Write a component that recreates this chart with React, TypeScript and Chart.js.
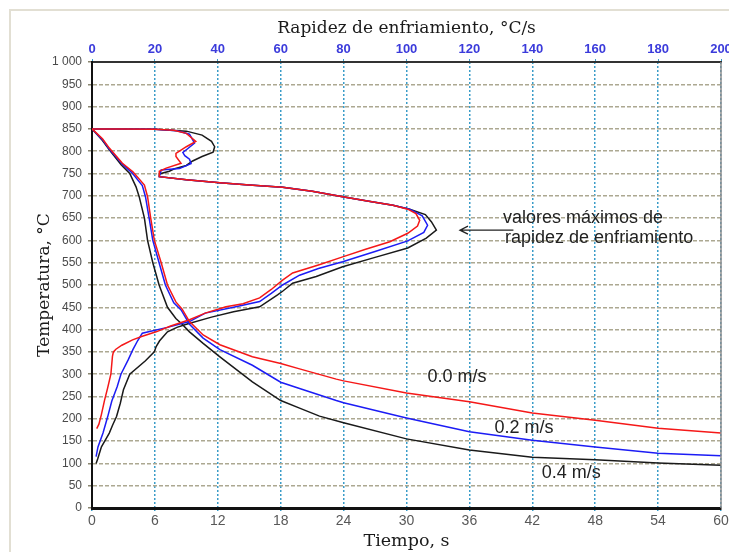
import React, { useEffect, useRef } from 'react';
import { Chart, registerables } from 'chart.js';

Chart.register(...registerables);

// ---- Cooling curves: temperature (°C) vs time (s) ----
const timeRed = [0, 1, 1.65, 2.9, 3.9, 5.0, 5.3, 5.6, 5.95, 6.6, 7.2, 8.0, 8.6, 9.3, 10.6, 12.2, 15.3, 18, 19.8, 23.3, 24, 30, 36, 42, 48, 54, 60];
const tempRed = [850, 828, 807, 773, 754, 724, 698, 650, 600, 550, 500, 462, 446, 418, 388, 366, 339, 324, 312, 289, 285, 258, 238, 213, 197, 179, 168];

const timeBlue = [0, 1, 1.65, 2.9, 3.8, 4.8, 5.1, 5.45, 5.8, 6.4, 7.0, 7.8, 8.5, 9.3, 10.6, 12.2, 15.3, 18, 19.8, 23.3, 24, 30, 36, 42, 48, 54, 60];
const tempBlue = [850, 826, 805, 771, 752, 723, 698, 650, 600, 550, 500, 460, 444, 412, 381, 355, 320, 282, 268, 241, 236, 202, 171, 152, 137, 123, 117];

const timeBlack = [0, 1, 1.65, 2.8, 3.6, 4.2, 4.5, 5.0, 5.3, 5.8, 6.4, 7.2, 8.0, 8.6, 9.3, 10.6, 12.2, 15.3, 18, 19.8, 21.7, 24, 30, 36, 42, 48, 54, 60];
const tempBlack = [850, 824, 803, 769, 750, 720, 698, 650, 600, 550, 500, 450, 425, 412, 395, 369, 339, 283, 241, 224, 206, 191, 155, 130, 114, 108, 101, 96];

// ---- Cooling-rate curves: temperature (°C) vs cooling rate (°C/s) ----
const rateRed = [0, 10, 20, 26, 30, 33, 30, 26.7, 26.7, 28.3, 23.6, 21.4, 21.4, 30, 40.6, 50, 60.6, 70, 79.7, 88, 95.7, 100.4, 103, 104.2, 103.5, 100.4, 94.7, 87, 79.7, 72, 63.8, 60.6, 57, 53.3, 48, 42.6, 36, 31, 25, 20.4, 16, 12.9, 9.5, 7.6, 6.8, 6.5, 6, 5, 4, 3, 2.2, 1.5];
const rateTempRed = [850, 850, 849, 847, 840, 822, 810, 795, 788, 773, 762, 755, 743, 736, 729, 724, 719, 710, 698, 688, 679, 670, 660, 645, 632, 616, 597, 580, 563, 545, 527, 511, 490, 471, 458, 451, 437, 422, 408, 395, 385, 377, 365, 356, 350, 340, 300, 270, 242, 210, 188, 178];

const rateBlue = [0, 10, 20, 27, 31, 32.6, 30.5, 28.9, 29.5, 31, 31.5, 27.8, 22, 21.4, 30, 40.6, 50, 60.6, 70, 79.7, 88, 95.7, 101, 105, 106.7, 105.5, 100.4, 90, 79.7, 72, 66, 60.6, 57, 53.3, 45, 36, 31, 24, 16, 14.5, 13, 11.5, 9.2, 8, 6.3, 5, 3.5, 1.9, 1.3];
const rateTempBlue = [850, 850, 849, 846, 838, 818, 806, 797, 790, 782, 772, 761, 758, 743, 736, 729, 724, 719, 710, 698, 688, 679, 670, 655, 634, 618, 599, 575, 552, 537, 522, 500, 481, 463, 450, 437, 418, 405, 392, 375, 355, 332, 300, 272, 240, 205, 168, 137, 115];

const rateBlack = [0, 10, 20, 30, 35, 38, 39, 38.5, 35, 32, 30, 26, 24.6, 21.4, 21.4, 30, 40.6, 50, 60.6, 70, 79.7, 88, 95.7, 101, 106, 107.9, 109.5, 106.3, 100.4, 90, 79.7, 71.3, 63.8, 60.6, 59, 53.3, 45, 38, 30, 27, 24, 21.5, 20.4, 19.8, 17, 12, 10, 9, 7.8, 6.5, 5.5, 3, 1.8, 1.3];
const rateTempBlack = [850, 850, 849, 845, 836, 822, 810, 798, 788, 778, 768, 760, 755, 749, 743, 736, 729, 724, 719, 710, 698, 688, 679, 670, 658, 642, 623, 605, 583, 562, 541, 519, 504, 486, 478, 451, 440, 428, 412, 405, 395, 375, 362, 350, 330, 300, 265, 235, 205, 185, 168, 137, 110, 100];

// ---- Axis ticks / titles ----
const timeTicksStep = 6;
const rateTicksStep = 20;
const tempTicksStep = 50;
const xTitle = 'Tiempo, s';
const x2Title = 'Rapidez de enfriamiento, °C/s';
const yTitle = 'Temperatura, °C';

// ---- Text annotations (in data coordinates: time s, temperature °C) ----
const speedLabels = ['0.0 m/s', '0.2 m/s', '0.4 m/s'];
const speedLabelTime = [32.0, 38.4, 42.9];
const speedLabelTemp = [294, 179, 78];
const noteLines = ['valores máximos de', 'rapidez de enfriamiento'];
const noteTime = [39.2, 39.4];
const noteTemp = [650, 605];
const arrowFrom = { t: 40.2, T: 623 };
const arrowTo = { t: 35.1, T: 623 };

const RED = '#f51818';
const BLUE = '#1c1cf5';
const BLACK = '#1a1a1a';

const pts = (xs: number[], ys: number[]) => xs.map((x, i) => ({ x, y: ys[i] }));

const overlay = {
  id: 'overlay',
  afterDatasetsDraw(chart: any) {
    const { ctx, chartArea: a, scales } = chart;
    const x = scales.x;
    const y = scales.y;
    ctx.save();
    ctx.strokeStyle = '#8c8c8c';
    ctx.lineWidth = 1.5;
    ctx.beginPath();
    ctx.moveTo(a.right, a.top);
    ctx.lineTo(a.right, a.bottom);
    ctx.stroke();

    ctx.fillStyle = '#222';
    ctx.textBaseline = 'middle';
    ctx.textAlign = 'left';
    ctx.font = '18px "Liberation Sans", Arial, sans-serif';
    speedLabels.forEach((s, i) => {
      ctx.fillText(s, x.getPixelForValue(speedLabelTime[i]), y.getPixelForValue(speedLabelTemp[i]));
    });
    noteLines.forEach((s, i) => {
      ctx.fillText(s, x.getPixelForValue(noteTime[i]), y.getPixelForValue(noteTemp[i]));
    });
    const x1 = x.getPixelForValue(arrowFrom.t);
    const y1 = y.getPixelForValue(arrowFrom.T);
    const x2 = x.getPixelForValue(arrowTo.t);
    const y2 = y.getPixelForValue(arrowTo.T);
    ctx.strokeStyle = '#222';
    ctx.lineWidth = 1.3;
    ctx.beginPath();
    ctx.moveTo(x1, y1);
    ctx.lineTo(x2, y2);
    ctx.moveTo(x2 + 8, y2 - 4);
    ctx.lineTo(x2, y2);
    ctx.lineTo(x2 + 8, y2 + 4);
    ctx.stroke();
    ctx.restore();
  },
};

export default function App() {
  const ref = useRef<HTMLCanvasElement>(null);
  useEffect(() => {
    const line = (label: string, xs: number[], ys: number[], color: string, axis: string) => ({
      label,
      data: pts(xs, ys),
      xAxisID: axis,
      yAxisID: 'y',
      showLine: true,
      borderColor: color,
      backgroundColor: color,
      borderWidth: 1.5,
      pointRadius: 0,
      tension: 0,
      fill: false,
    });
    const chart = new Chart(ref.current!, {
      type: 'scatter',
      data: {
        datasets: [
          line('0.0 m/s T-t', timeRed, tempRed, RED, 'x'),
          line('0.0 m/s rate', rateRed, rateTempRed, RED, 'x2'),
          line('0.2 m/s T-t', timeBlue, tempBlue, BLUE, 'x'),
          line('0.2 m/s rate', rateBlue, rateTempBlue, BLUE, 'x2'),
          line('0.4 m/s T-t', timeBlack, tempBlack, BLACK, 'x'),
          line('0.4 m/s rate', rateBlack, rateTempBlack, BLACK, 'x2'),
        ],
      },
      options: {
        responsive: false,
        animation: false,
        devicePixelRatio: 1,
        layout: { padding: { left: 0, right: 8, top: 0, bottom: 0 } },
        plugins: { legend: { display: false }, tooltip: { enabled: false } },
        scales: {
          x: {
            type: 'linear',
            position: 'bottom',
            min: 0,
            max: 60,
            ticks: {
              stepSize: timeTicksStep,
              color: '#585858',
              font: { family: '"Liberation Sans", Arial, sans-serif', size: 14 },
              padding: 2,
              maxRotation: 0,
              autoSkip: false,
            },
            grid: { color: '#3a9cc8', lineWidth: 1.5, drawTicks: true, tickLength: 3, tickColor: '#3a9cc8' },
            border: { display: true, color: '#111', width: 3, dash: [2, 2] },
            title: {
              display: true,
              text: xTitle,
              color: '#1a1a1a',
              font: { family: '"DejaVu Serif", serif', size: 17.5 },
              padding: { top: 1.5, bottom: 0 },
            },
            afterFit(s: any) {
              s.height = 44;
              s.paddingLeft = 0;
              s.paddingRight = 0;
            },
          },
          x2: {
            type: 'linear',
            position: 'top',
            min: 0,
            max: 200,
            ticks: {
              stepSize: rateTicksStep,
              color: '#3b3bdb',
              font: { family: '"Liberation Sans Narrow", "Liberation Sans", Arial, sans-serif', size: 13, weight: 'bold' },
              padding: 2,
              maxRotation: 0,
              autoSkip: false,
            },
            grid: { display: true, drawOnChartArea: false, drawTicks: true, tickLength: 3, tickColor: '#3a9cc8' },
            border: { display: true, color: '#333', width: 2 },
            title: {
              display: true,
              text: x2Title,
              color: '#1a1a1a',
              font: { family: '"DejaVu Serif", serif', size: 17 },
              padding: { top: 18, bottom: 0 },
            },
            afterFit(s: any) {
              s.height = 62;
              s.paddingLeft = 0;
              s.paddingRight = 0;
            },
          },
          y: {
            type: 'linear',
            position: 'left',
            min: 0,
            max: 1000,
            ticks: {
              stepSize: tempTicksStep,
              color: '#4a4a4a',
              font: { family: '"Liberation Sans", Arial, sans-serif', size: 12 },
              padding: 6,
              autoSkip: false,
              callback: (v: any) => (v === 1000 ? '1 000' : String(v)),
            },
            grid: { color: '#aca891', lineWidth: 1.5, drawTicks: true, tickLength: 4, tickColor: '#8a8670' },
            border: { display: true, color: '#111', width: 2, dash: [4, 2] },
            title: {
              display: true,
              text: yTitle,
              color: '#1a1a1a',
              font: { family: '"DejaVu Serif", serif', size: 17 },
              padding: { top: 34, bottom: 0 },
            },
            afterFit(s: any) {
              s.width = 92;
              s.paddingTop = 0;
              s.paddingBottom = 0;
            },
          },
        },
      },
      plugins: [overlay],
    } as any);
    return () => chart.destroy();
  }, []);

  return (
    <div style={{ position: 'fixed', left: 0, top: 0, width: 729, height: 552, background: '#fff', overflow: 'hidden' }}>
      <div
        style={{
          position: 'absolute',
          left: 9,
          top: 9,
          width: 740,
          height: 560,
          borderLeft: '2px solid #e2dfd3',
          borderTop: '2px solid #e2dfd3',
        }}
      />
      <canvas ref={ref} width={729} height={552} style={{ position: 'absolute', left: 0, top: 0, width: 729, height: 552 }} />
    </div>
  );
}
